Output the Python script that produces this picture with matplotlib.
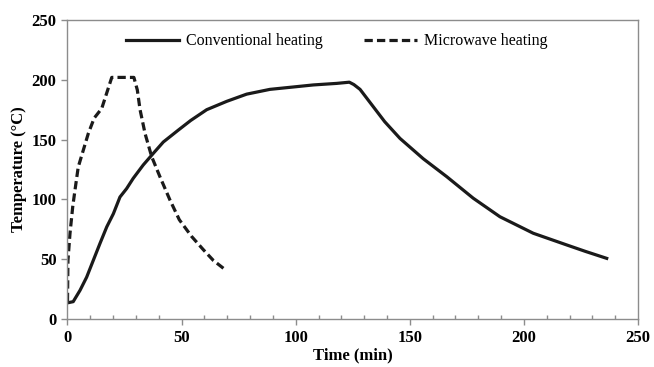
import matplotlib
matplotlib.use("Agg")
import matplotlib.pyplot as plt
from matplotlib.ticker import MultipleLocator
from matplotlib.font_manager import FontProperties

# Conventional heating (solid)
conv_t = [0, 2.5, 5.5, 8.4, 11.3, 14.2, 17.2, 20.1, 23, 25.9, 28.8, 33.2, 37.6, 42,
          48.6, 54, 61, 69.8, 78.5, 88.7, 99, 107.7, 118, 123.5, 125.5, 128.2, 134,
          139, 145.7, 155.9, 166.2, 177.8, 189.5, 204.1, 218.8, 227, 236.3]
conv_T = [13.5, 14.5, 24, 35, 49, 63, 77, 88, 102, 109, 117.6, 128.8, 138.5, 148,
          158, 166, 175, 182, 188, 192, 194, 195.7, 197, 198, 196, 192, 177.5,
          165, 151, 134, 119, 101, 85.5, 71.7, 61.9, 56.5, 50.7]

# Microwave heating (dashed)
mw_t = [0, 0.2, 1.1, 2.3, 3.3, 4.7, 6.9, 9.1, 11.7, 15, 17.2, 19.4, 24, 29.1, 30.6,
        31.8, 34, 36.9, 40.5, 44.9, 49, 54.4, 59.5, 63.9, 68.6]
mw_T = [15, 49, 71.6, 94, 108, 127, 141, 155, 168, 176, 189, 202, 202, 202, 191.5,
        175, 155, 135.7, 119, 99.5, 83, 69, 58, 49, 42]

x_ticks = [0, 50, 100, 150, 200, 250]
y_ticks = [0, 50, 100, 150, 200, 250]

fig = plt.figure(figsize=(6.54, 3.67), dpi=100)
ax = fig.add_axes([0.1032, 0.1308, 0.8723, 0.8147])

ax.plot(conv_t, conv_T, color="#1a1a1a", lw=2.3, label="Conventional heating",
        solid_joinstyle="round")
ax.plot(mw_t, mw_T, color="#1a1a1a", lw=2.3, dashes=(2.6, 1.3), label="Microwave heating")

ax.set_xlim(0, 250)
ax.set_ylim(0, 250)
ax.set_xticks(x_ticks)
ax.set_yticks(y_ticks)
ax.xaxis.set_minor_locator(MultipleLocator(10))

for s in ax.spines.values():
    s.set_color("#8c8c8c")
    s.set_linewidth(1.0)

ax.tick_params(axis="both", which="major", direction="out", length=4, color="#8c8c8c",
               width=1.0, pad=4)
ax.tick_params(axis="x", which="minor", direction="in", length=3, color="#8c8c8c", width=1.0)

bold = dict(family="Liberation Serif", weight="bold", size=12)
fp = FontProperties(**bold)
for lbl in ax.get_xticklabels() + ax.get_yticklabels():
    lbl.set_fontproperties(fp)

ax.set_xlabel("Time (min)", fontdict=bold, labelpad=1)
ax.set_ylabel("Temperature (°C)", fontdict=bold, labelpad=3)

leg = ax.legend(loc="upper left", ncol=2, frameon=False, handlelength=3.3,
                columnspacing=2.6, handletextpad=0.45, borderpad=0, borderaxespad=0,
                bbox_to_anchor=(0.103, 0.955),
                prop=dict(family="Liberation Serif", size=11.5))

fig.savefig("out.png", dpi=100)
